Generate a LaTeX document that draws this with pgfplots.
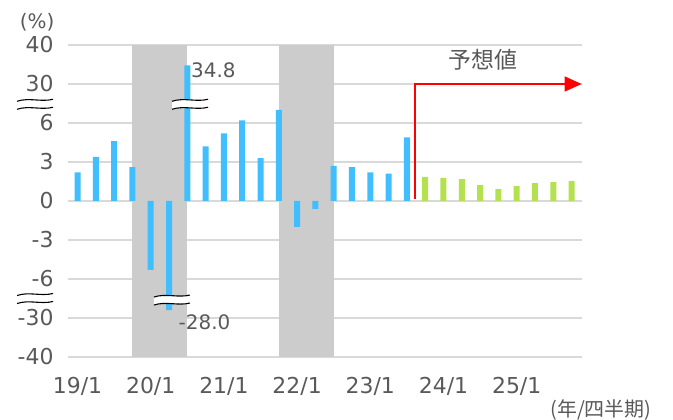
\documentclass[border=0pt]{standalone}
\usepackage{fontspec}
\setmainfont{DejaVu Sans}
\newfontfamily\cjk{Noto Sans CJK JP}
\usepackage{pgfplots}
\pgfplotsset{compat=1.18}
\usetikzlibrary{arrows.meta}
\definecolor{barblue}{HTML}{41BEFE}
\definecolor{bargreen}{HTML}{B4E150}
\definecolor{txtgray}{HTML}{595959}
\definecolor{gridgray}{HTML}{D9D9D9}
\definecolor{recgray}{HTML}{CCCCCC}
\newcommand{\brk}[1]{%
\begin{scope}[shift={(#1)},x=1bp,y=1bp]
\fill[white] (-18,3) .. controls (-6,7) and (6,2) .. (18,5) -- (18,-3) .. controls (6,-6) and (-6,-1) .. (-18,-5) -- cycle;
\draw[black, line width=1.1bp] (-18,3) .. controls (-6,7) and (6,2) .. (18,5);
\draw[black, line width=1.1bp] (-18,-5) .. controls (-6,-1) and (6,-6) .. (18,-3);
\end{scope}}
\begin{document}
\begin{tikzpicture}
\begin{axis}[name=ax, scale only axis, width=514bp, height=312bp,
  xmin=-0.52, xmax=27.57, ymin=-4, ymax=4, clip=false,
  axis line style={draw=none}, tick style={draw=none},
  ymajorgrids, grid style={gridgray, line width=1.5bp},
  ytick={-4,-3,-2,-1,0,1,2,3,4},
  yticklabels={-40,-30,-6,-3,0,3,6,30,40},
  xtick={0,4,8,12,16,20,24},
  xticklabels={19/1,20/1,21/1,22/1,23/1,24/1,25/1},
  tick label style={font=\fontsize{22}{26}\selectfont, text=txtgray},
  yticklabel style={xshift=-11bp},
  xticklabel style={yshift=-17bp},
  y filter/.expression={abs(y)<=9 ? y/3 : (y>0 ? 3+(y-30)/10 : -3+(y+30)/10)},
]
\fill[recgray] (axis cs:3,-4) rectangle (axis cs:6,4);
\fill[recgray] (axis cs:11,-4) rectangle (axis cs:14,4);
\addplot[ybar, bar width=6bp, bar shift=0pt, fill=barblue, draw=none] coordinates {
 (0,2.2) (1,3.4) (2,4.6) (3,2.6) (4,-5.3) (5,-28.0) (6,34.8) (7,4.2) (8,5.2) (9,6.2)
 (10,3.3) (11,7.0) (12,-2.0) (13,-0.6) (14,2.7) (15,2.6) (16,2.2) (17,2.1) (18,4.9)};
\addplot[ybar, bar width=6bp, bar shift=0pt, fill=bargreen, draw=none] coordinates {
 (19,1.85) (20,1.77) (21,1.69) (22,1.23) (23,0.92) (24,1.15) (25,1.38) (26,1.46) (27,1.54)};
\node[anchor=west, inner sep=0pt, text=txtgray, font=\fontsize{20}{24}\selectfont] at (axis cs:6.2,3.36) {34.8};
\node[inner sep=0pt, text=txtgray, font=\fontsize{20}{24}\selectfont] at (axis cs:6.94,-3.10) {-28.0};
\draw[red, line width=1.5bp, -{Triangle[length=17bp,width=15bp]}] (axis cs:18.44,0.06) |- (axis cs:27.55,3);
\node[text=txtgray, font=\cjk\fontsize{23}{27}\selectfont] at (axis cs:22.16,3.62) {予想値};
\node[text=txtgray, font=\fontsize{20}{24}\selectfont] at (axis cs:-2.21,4.59) {(\%)};
\node[text=txtgray, font=\cjk\fontsize{20}{24}\selectfont] at (axis cs:28.6,-5.36) {(年/四半期)};
\coordinate (b1) at (axis cs:-2.32,2.48);
\coordinate (b2) at (axis cs:6.15,2.48);
\coordinate (b3) at (axis cs:-2.32,-2.5);
\coordinate (b4) at (axis cs:5.16,-2.54);
\end{axis}
\brk{b1}\brk{b2}\brk{b3}\brk{b4}
\pgfresetboundingbox
\path[use as bounding box] ([shift={(-68bp,-63bp)}]ax.south west) rectangle ([shift={(91bp,45bp)}]ax.north east);
\end{tikzpicture}
\end{document}
